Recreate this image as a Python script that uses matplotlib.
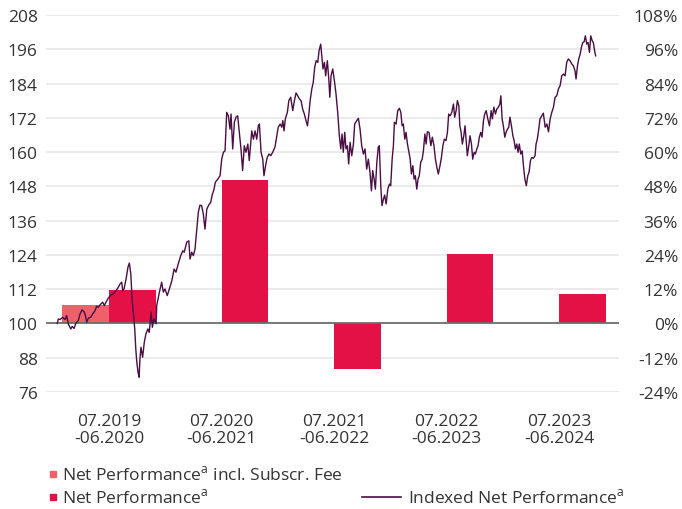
import matplotlib
matplotlib.use("Agg")
import matplotlib.pyplot as plt
from matplotlib.patches import Rectangle
from matplotlib.lines import Line2D

plt.rcParams['font.family'] = ['Open Sans', 'DejaVu Sans']

# ---------------- data ----------------
periods = ["07.2019\n-06.2020", "07.2020\n-06.2021", "07.2021\n-06.2022",
           "07.2022\n-06.2023", "07.2023\n-06.2024"]
net_perf = [11.8, 50.1, -16.1, 24.3, 10.3]          # % per period
net_perf_incl_fee = [6.5]                            # % (first period only)

left_ticks = list(range(76, 209, 12))
right_ticks = list(range(-24, 109, 12))

# indexed net performance (week number since 07.2019, index value)
line_weeks = [
    0.0, 0.5, 1.3, 2.6, 3.7, 4.5, 5.3, 6.5, 7.2, 8.1,
    9.0, 10.1, 11.0, 11.9, 12.9, 13.5, 14.2, 15.0, 16.1, 17.1,
    18.2, 19.0, 19.8, 20.6, 21.9, 22.7, 23.5, 24.6, 25.8, 27.0,
    28.0, 29.2, 30.3, 31.1, 31.6, 32.2, 33.2, 34.1, 34.8, 35.5,
    36.1, 36.7, 37.4, 37.9, 38.4, 39.0, 39.5, 39.9, 40.4, 41.2,
    42.0, 42.8, 43.7, 44.4, 45.3, 45.9, 46.7, 47.7,
    48.0, 49.3, 50.4, 51.2, 52.0, 53.1, 54.1, 55.3, 56.4, 57.3, 58.4, 59.6,
    60.6, 61.3, 62.5, 63.5, 64.1, 64.9, 65.7, 66.5, 67.3, 68.1,
    68.9, 69.7, 70.5, 71.3, 72.2, 73.1, 74.1, 74.7, 75.7, 76.3,
    77.5, 78.6, 79.4, 80.2, 81.0, 81.8, 82.6, 83.4, 83.9, 84.7,
    85.5, 86.3, 87.1, 87.9, 88.7, 89.5, 90.3, 91.1, 92.0, 92.7,
    93.9, 94.7, 95.5, 96.3, 97.1, 97.6, 98.4, 99.2, 99.8, 100.7,
    101.4, 102.2, 103.1, 104.0, 105.1, 106.0, 106.7, 107.6, 108.4, 108.9,
    109.5, 110.1, 111.1, 111.8, 112.7, 113.7, 114.5, 115.3, 116.1, 116.9,
    117.7, 118.5, 119.3, 120.1, 120.8, 121.4, 122.1, 122.9, 123.6, 124.3,
    125.0, 125.8, 126.4, 127.2, 127.7, 128.3, 129.0, 129.6, 130.4, 131.1,
    131.6, 132.2, 133.0, 133.8, 134.6, 135.4, 136.2, 136.9, 137.5, 138.1,
    138.8, 139.4, 140.1, 140.7, 141.4,
    142.2, 143.0, 143.6, 144.6, 145.4, 146.2, 147.0, 147.8, 148.6, 149.4,
    150.2, 151.0, 151.7, 152.3, 153.0, 153.6, 154.3, 155.0, 155.5, 156.2,
    156.8, 157.5, 158.1, 158.8, 159.6, 160.4, 161.0, 161.7, 162.3, 162.8,
    163.6, 164.4, 165.2, 165.9, 166.5, 167.1, 167.8, 168.4, 169.1, 169.7,
    170.4, 171.0, 171.7, 172.3, 172.9, 173.6, 174.2, 174.8, 175.5, 176.2,
    176.8, 177.5, 178.1, 178.7, 179.5, 180.4, 181.1, 181.9, 182.6, 183.3,
    184.0, 184.8, 185.5, 186.2, 186.9, 187.7, 188.4, 189.0,
    189.7, 190.5, 191.3, 191.9, 192.6, 193.2, 193.9, 194.4, 195.0, 195.6,
    196.3, 196.9, 197.5, 198.0, 198.7, 199.3, 200.0, 200.6, 201.3, 201.9,
    202.6, 203.2, 203.8, 204.5, 205.1, 205.8, 206.4, 207.1, 207.9, 208.7,
    209.5, 210.1, 210.8, 211.6, 212.2, 213.0, 213.7, 214.2, 214.8, 215.4,
    216.1, 216.7, 217.4, 218.0, 218.6, 219.3, 220.0, 220.6, 221.2, 221.9,
    222.5, 223.1, 223.8, 224.5, 225.1, 225.8, 226.5, 227.2, 227.8, 228.5,
    229.1, 229.9, 230.7, 231.2, 231.8, 232.5, 233.1,
    234.0, 234.7, 235.6, 236.4, 237.2, 238.0, 238.8, 239.6, 240.4, 241.2,
    242.0, 242.8, 243.6, 244.4, 245.2, 246.0, 246.8, 247.6, 248.5, 249.2,
    250.0, 250.5, 251.2, 251.8, 252.5, 253.1, 253.8, 254.4, 255.0, 255.7,
    256.3, 257.0, 257.6, 258.3, 258.9, 259.6, 260.0,
]
line_values = [
    100.0, 101.5, 101.3, 102.1, 101.3, 102.7, 99.8, 98.0, 98.9, 98.2,
    100.1, 100.9, 103.3, 104.7, 104.1, 102.9, 100.4, 101.8, 102.1, 103.3,
    104.4, 106.0, 105.6, 106.4, 107.4, 106.2, 107.4, 108.8, 109.9, 110.3,
    111.1, 112.3, 113.8, 114.4, 111.4, 112.0, 115.5, 119.6, 121.1, 117.3,
    108.5, 103.9, 98.0, 91.0, 86.3, 82.8, 81.1, 87.5, 91.6, 88.1,
    93.3, 96.3, 98.0, 96.8, 103.9, 98.6, 101.5, 99.8,
    106.2, 110.9, 114.4, 110.9, 112.0, 109.7, 112.0, 114.9, 119.0, 117.9, 120.8, 123.7,
    125.4, 124.9, 128.4, 128.9, 122.5, 124.9, 123.7, 126.0, 132.4, 138.9,
    141.4, 141.2, 138.3, 133.0, 140.0, 141.4, 142.4, 144.7, 147.0, 149.4,
    150.5, 151.7, 157.5, 159.9, 160.4, 173.9, 172.7, 168.0, 173.3, 161.1,
    170.4, 172.2, 172.7, 166.9, 161.1, 153.5, 162.2, 159.9, 162.8, 157.0,
    167.4, 164.5, 167.4, 164.5, 169.2, 169.8, 159.9, 157.6, 151.7, 155.8,
    158.1, 159.3, 158.7, 159.9, 161.7, 165.7, 168.7, 169.8, 168.7, 171.0,
    167.4, 171.6, 173.9, 178.0, 179.2, 174.5, 178.0, 180.7, 179.7, 178.6,
    178.0, 175.0, 173.3, 171.0, 169.2, 172.7, 178.0, 182.1, 184.4, 189.7,
    192.0, 191.4, 195.5, 197.8, 193.7, 189.1, 191.4, 186.7, 192.0, 185.6,
    179.2, 186.7, 189.1, 185.0, 180.3, 173.9, 165.7, 161.1, 166.3, 159.9,
    166.9, 161.1, 162.2, 155.8, 163.4,
    158.7, 162.8, 169.8, 171.0, 171.8, 168.0, 162.2, 159.3, 161.1, 154.0,
    157.5, 152.9, 146.4, 153.5, 150.5, 147.0, 156.4, 161.7, 162.2, 148.2,
    141.2, 143.5, 144.9, 141.8, 147.0, 148.8, 148.2, 157.5, 162.2, 170.4,
    169.8, 174.5, 175.3, 173.9, 169.2, 169.8, 164.5, 166.9, 162.8, 160.4,
    157.5, 152.3, 155.2, 150.5, 151.7, 147.0, 150.5, 151.7, 156.4, 157.5,
    160.4, 166.3, 162.8, 167.1, 166.9, 162.2, 165.2, 162.2, 157.5, 154.6,
    152.3, 155.2, 158.1, 162.2, 164.5, 164.0, 166.9, 173.3,
    172.7, 173.9, 176.8, 172.2, 174.5, 178.0, 176.2, 169.2, 166.9, 162.8,
    165.7, 169.2, 163.4, 158.7, 162.2, 165.7, 162.8, 157.5, 159.9, 159.3,
    161.1, 162.2, 165.2, 166.9, 165.2, 171.0, 173.3, 174.5, 171.6, 169.2,
    174.5, 171.6, 175.7, 173.3, 175.0, 175.7, 176.8, 179.7, 171.6, 169.2,
    165.2, 166.9, 168.0, 168.7, 172.2, 169.2, 165.7, 164.0, 161.1, 162.8,
    159.9, 162.8, 159.3, 160.4, 155.2, 150.5, 148.2, 151.7, 152.9, 157.0,
    158.1, 157.8, 158.7, 162.8, 164.5, 168.0, 171.6,
    172.7, 173.6, 168.7, 169.8, 167.1, 171.6, 173.9, 175.7, 179.2, 179.7,
    182.1, 183.2, 186.7, 187.3, 186.7, 191.4, 192.6, 192.0, 190.8, 190.2,
    188.5, 185.6, 190.2, 192.6, 194.3, 196.7, 198.4, 198.6, 200.7, 197.8,
    198.4, 194.9, 200.7, 199.0, 198.2, 194.9, 193.7,
]
n = min(len(line_weeks), len(line_values))
line_weeks = line_weeks[:n]
line_values = line_values[:n]

# ---------------- style ----------------
c_fee = '#F0606A'
c_net = '#E31146'
c_line = '#4A0E44'
c_grid = '#EBEBEB'
c_text = '#333333'
fs = 12.5

W, H = 682, 510
fig = plt.figure(figsize=(W / 100, H / 100), dpi=100)
px_l, px_r, px_t, px_b = 46, 619, 16, 392.8
pos = [px_l / W, 1 - px_b / H, (px_r - px_l) / W, (px_b - px_t) / H]

# bar axes (percent scale, right axis)
ax = fig.add_axes(pos)
ax.set_xlim(-0.56, 4.533)
ax.set_ylim(-24, 108)
for t in right_ticks:
    ax.axhline(t, color=c_grid, lw=1.4, zorder=0)
bw = 0.415
off = 0.21
xs = list(range(len(periods)))
ax.bar([xs[0] - off], net_perf_incl_fee, width=bw, color=c_fee, zorder=2)
ax.bar([x + off for x in xs], net_perf, width=bw, color=c_net, zorder=2)
ax.axhline(0, color='#6E6E6E', lw=1.3, zorder=3)

for s in ax.spines.values():
    s.set_visible(False)
ax.yaxis.tick_right()
ax.set_yticks(right_ticks)
ax.set_yticklabels([f"{t}%" for t in right_ticks])
ax.tick_params(axis='y', length=0, pad=42.5, labelsize=fs, labelcolor=c_text)
for lbl in ax.get_yticklabels():
    lbl.set_horizontalalignment('right')
ax.set_xticks(xs)
ax.set_xticklabels(periods, linespacing=1.1)
ax.tick_params(axis='x', length=0, pad=15, labelsize=fs, labelcolor=c_text)

# line axes (index scale, left axis)
axl = fig.add_axes(pos)
axl.patch.set_visible(False)
axl.set_xlim(-5.46, 271.25)
axl.set_ylim(76, 208)
axl.plot(line_weeks, line_values, color=c_line, lw=1.0, zorder=4)
for s in axl.spines.values():
    s.set_visible(False)
axl.set_xticks([])
axl.set_yticks(left_ticks)
axl.tick_params(axis='y', length=0, pad=6, labelsize=fs, labelcolor=c_text)

# ---------------- legend ----------------
def fx(px):
    return px / W

def fy(py):
    return 1 - py / H

sq = 6
lab_a = r"$^{\mathregular{a}}$"
fig.add_artist(Rectangle((fx(50), fy(475 + sq / 2)), sq / W, sq / H,
                         transform=fig.transFigure, color=c_fee))
fig.text(fx(62), fy(475), "Net Performance" + lab_a + " incl. Subscr. Fee",
         fontsize=fs, color=c_text, va='center', ha='left')
fig.add_artist(Rectangle((fx(50), fy(498 + sq / 2)), sq / W, sq / H,
                         transform=fig.transFigure, color=c_net))
fig.text(fx(62), fy(498), "Net Performance" + lab_a,
         fontsize=fs, color=c_text, va='center', ha='left')
fig.add_artist(Line2D([fx(362), fx(401)], [fy(498), fy(498)],
                      transform=fig.transFigure, color=c_line, lw=1.2))
fig.text(fx(408), fy(498), "Indexed Net Performance" + lab_a,
         fontsize=fs, color=c_text, va='center', ha='left')

fig.savefig("out.png", dpi=100)
